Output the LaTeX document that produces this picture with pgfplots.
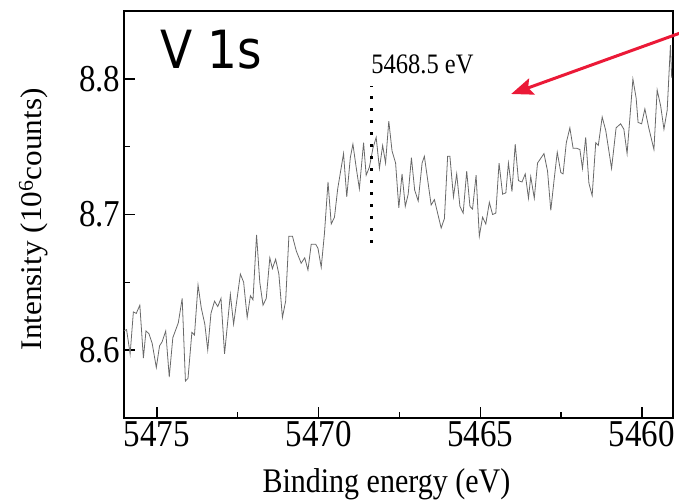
\documentclass[border=0pt]{standalone}
\usepackage{pgfplots}
\pgfplotsset{compat=1.18}
\usepackage{pgfplotstable}
\usepackage{graphicx}
\usepackage{fontspec}
\setmainfont{Liberation Serif}
\newfontfamily\dejavu{DejaVu Sans}
\usetikzlibrary{arrows.meta}
\definecolor{arrowred}{RGB}{235,25,55}
\definecolor{linegray}{RGB}{105,105,105}
\newcommand{\vs}[1]{\scalebox{1}[1.15]{#1}}
\pgfplotstableread{
x y
5476.02 8.614
5475.94 8.615
5475.83 8.597
5475.73 8.628
5475.64 8.627
5475.53 8.633
5475.42 8.594
5475.34 8.614
5475.25 8.612
5475.15 8.605
5475.02 8.587
5474.92 8.603
5474.84 8.606
5474.73 8.614
5474.62 8.580
5474.51 8.609
5474.34 8.620
5474.22 8.638
5474.12 8.577
5474.04 8.579
5473.92 8.613
5473.84 8.611
5473.73 8.648
5473.63 8.631
5473.52 8.619
5473.43 8.600
5473.33 8.627
5473.22 8.636
5473.12 8.632
5473.02 8.638
5472.91 8.597
5472.73 8.641
5472.63 8.619
5472.42 8.656
5472.32 8.650
5472.21 8.624
5472.11 8.640
5472.03 8.637
5471.92 8.685
5471.82 8.650
5471.72 8.633
5471.62 8.638
5471.51 8.668
5471.43 8.660
5471.33 8.667
5471.23 8.656
5471.12 8.624
5471.02 8.636
5470.92 8.684
5470.81 8.684
5470.69 8.673
5470.54 8.664
5470.43 8.668
5470.33 8.659
5470.23 8.678
5470.09 8.678
5470.02 8.675
5469.92 8.661
5469.82 8.686
5469.71 8.724
5469.61 8.693
5469.51 8.698
5469.41 8.719
5469.23 8.745
5469.13 8.713
5469.02 8.742
5468.94 8.752
5468.84 8.735
5468.74 8.719
5468.61 8.753
5468.53 8.729
5468.43 8.735
5468.32 8.749
5468.22 8.757
5468.12 8.734
5468.02 8.751
5467.93 8.738
5467.83 8.769
5467.73 8.747
5467.62 8.738
5467.52 8.705
5467.42 8.730
5467.32 8.706
5467.23 8.715
5467.13 8.742
5467.03 8.718
5466.92 8.710
5466.80 8.738
5466.73 8.743
5466.63 8.726
5466.52 8.707
5466.42 8.711
5466.32 8.701
5466.21 8.690
5466.11 8.697
5466.01 8.743
5465.94 8.743
5465.83 8.713
5465.73 8.730
5465.63 8.706
5465.53 8.701
5465.42 8.732
5465.32 8.706
5465.24 8.704
5465.13 8.729
5465.03 8.684
5464.93 8.698
5464.83 8.693
5464.72 8.709
5464.62 8.700
5464.52 8.701
5464.42 8.738
5464.31 8.715
5464.21 8.716
5464.13 8.738
5464.02 8.717
5463.92 8.752
5463.82 8.725
5463.71 8.724
5463.61 8.730
5463.51 8.712
5463.44 8.728
5463.33 8.712
5463.23 8.738
5463.03 8.745
5462.92 8.732
5462.82 8.703
5462.72 8.725
5462.62 8.746
5462.51 8.731
5462.44 8.730
5462.34 8.753
5462.23 8.764
5462.13 8.749
5462.03 8.749
5461.92 8.748
5461.84 8.734
5461.74 8.757
5461.64 8.723
5461.54 8.714
5461.43 8.753
5461.35 8.751
5461.23 8.772
5461.12 8.762
5460.94 8.734
5460.80 8.764
5460.66 8.767
5460.56 8.763
5460.46 8.745
5460.28 8.800
5460.18 8.786
5460.12 8.768
5460.01 8.767
5459.91 8.778
5459.79 8.764
5459.63 8.748
5459.53 8.792
5459.42 8.780
5459.32 8.763
5459.22 8.777
5459.12 8.825
5459.08 8.801
}\spectrum
\begin{document}
\begin{tikzpicture}
\begin{axis}[
  scale only axis, width=549pt, height=407pt,
  xmin=5459.04, xmax=5476.02, x dir=reverse,
  ymin=8.5497, ymax=8.8503,
  xtick={5460,5465,5470,5475}, ytick={8.6,8.7,8.8},
  minor x tick num=1, minor y tick num=1,
  xtick pos=bottom, ytick pos=left, tick align=inside,
  major tick length=11pt, minor tick length=6pt,
  tick style={black, line width=1.3pt},
  axis line style={line width=1.3pt},
  /pgf/number format/set thousands separator={},
  /pgf/number format/assume math mode=true,
  xticklabel={\vs{\pgfmathprintnumber{\tick}}},
  yticklabel={\vs{\pgfmathprintnumber[fixed,precision=1,fixed zerofill]{\tick}}},
  ticklabel style={font=\fontsize{33}{33}\selectfont},
  label style={font=\fontsize{30}{30}\selectfont},
  xlabel={\vs{Binding energy (eV)}},
  ylabel={\scalebox{1.04}[1]{Intensity (10\textsuperscript{6}counts)}},
  x label style={at={(axis description cs:0.478,-0.182)}, anchor=base},
  y label style={at={(axis description cs:-0.1494,0.488)}, anchor=base},
  clip=false,
]
\addplot[linegray, line width=0.8pt] table[x=x, y=y] {\spectrum};
\draw[black, line width=2.6pt, dash pattern=on 2.6pt off 9.4pt] (axis cs:5468.36,8.679) -- (axis cs:5468.36,8.795);
\node[anchor=base west, inner sep=0pt, font=\fontsize{24.5}{24.5}\selectfont] at (axis cs:5468.375,8.804) {\vs{5468.5 eV}};
\node[anchor=base west, inner sep=0pt, font=\dejavu\fontsize{47}{47}\selectfont] at (axis cs:5474.91,8.808) {\scalebox{1}[1.12]{V 1s}};
\draw[-{Stealth[length=22pt,width=17pt,inset=4pt]}, line width=3pt, arrowred] (axis cs:5458.24,8.839) -- (axis cs:5464.045,8.789);
\coordinate (bl) at (rel axis cs:0,0);
\coordinate (tr) at (rel axis cs:1,1);
\end{axis}
\pgfresetboundingbox
\path[use as bounding box] ([shift={(-124pt,-82pt)}]bl) rectangle ([shift={(6pt,11pt)}]tr);
\end{tikzpicture}
\end{document}
